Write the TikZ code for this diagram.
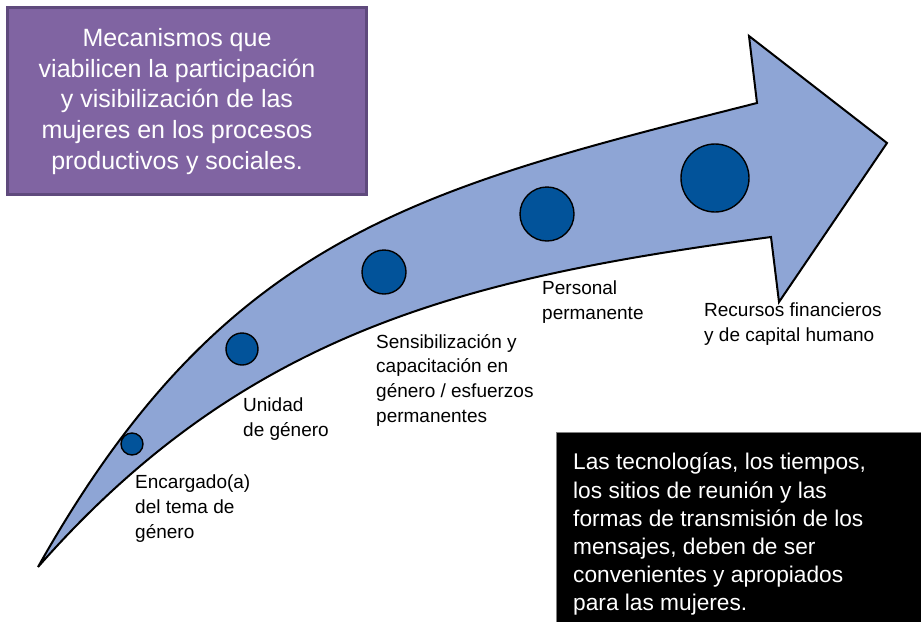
\documentclass[tikz,border=0pt]{standalone}
\usepackage{fontspec}
\setmainfont{Liberation Sans}
\definecolor{arrowblue}{HTML}{8EA5D5}
\definecolor{dotblue}{HTML}{02539A}
\definecolor{boxpurple}{HTML}{8064A2}
\definecolor{boxpurpleline}{HTML}{5F4A7D}
\definecolor{boxgray}{HTML}{808080}
\begin{document}
\begin{tikzpicture}[x=1pt,y=-1pt,
  arrowbody/.style={fill=arrowblue,draw=black,line width=2pt,line join=miter,miter limit=4},
  dot/.style={circle,fill=dotblue,draw=black,line width=1.4pt,inner sep=0pt},
  lbl/.style={anchor=north west,inner sep=0pt,align=left,font=\fontsize{19pt}{24.8pt}\selectfont},
  purplebox/.style={fill=boxpurple,draw=boxpurpleline,line width=3pt},
  purpletext/.style={anchor=north,inner sep=0pt,align=center,text=white,font=\fontsize{25pt}{30.8pt}\selectfont},
  blacktext/.style={anchor=north west,inner sep=0pt,align=left,text=white,font=\fontsize{22.7pt}{28.2pt}\selectfont}]
\useasboundingbox (0,0) rectangle (921,622);
% arrow
\coordinate (tail) at (38,567);
\draw[arrowbody] (tail) .. controls (224,236) and (417,189) .. (757,103)
  -- (749,36) -- (887,143) -- (779,302) -- (771,237)
  .. controls (474,277) and (249,327) .. (tail) -- cycle;
% dots
\node[dot,minimum size=22pt] (c1) at (132,444) {};
\node[dot,minimum size=32pt] (c2) at (242,349) {};
\node[dot,minimum size=44pt] (c3) at (384,272) {};
\node[dot,minimum size=54pt] (c4) at (547,214) {};
\node[dot,minimum size=68pt] (c5) at (715,178) {};
% labels
\node[lbl] (l1) at (135,475) {Encargado(a)\\del tema de\\género};
\node[lbl] (l2) at (243,398) {Unidad\\de género};
\node[lbl] (l3) at (376,334) {Sensibilización y\\capacitación en\\género / esfuerzos\\permanentes};
\node[lbl] (l4) at (542,281) {Personal\\permanente};
\node[lbl] (l5) at (704,303) {Recursos financieros\\y de capital humano};
% purple box
\draw[purplebox] (7,7) rectangle (366,194);
\node[purpletext] (ptext) at (177,28) {Mecanismos que\\viabilicen la participación\hspace*{22pt}\\y visibilización de las\\mujeres en los procesos\\productivos y sociales.};
% black box
\fill[black] (556,432) rectangle (921,622);
\draw[boxgray,line width=1pt] (556,622) -- (556,432) -- (921,432);
\node[blacktext] (btext) at (573,453) {Las tecnologías, los tiempos,\\los sitios de reunión y las\\formas de transmisión de los\\mensajes, deben de ser\\convenientes y apropiados\\para las mujeres.};
\end{tikzpicture}
\end{document}
